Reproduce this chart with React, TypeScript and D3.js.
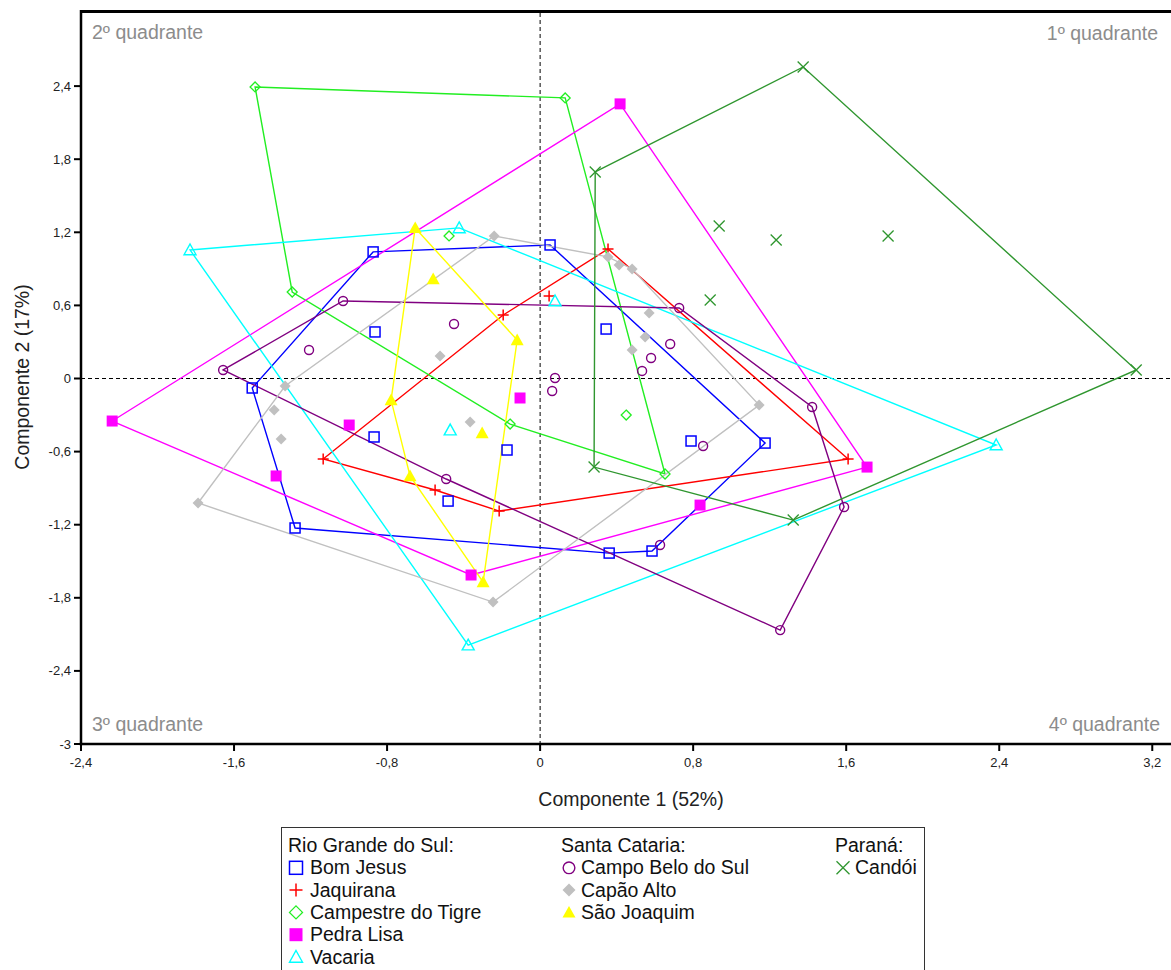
import React from "react";
import * as d3 from "d3";

type P = [number, number];

// ---- data (Componente 1, Componente 2) ----
const bomJesusHull: P[] = [[-0.873, 1.039], [0.052, 1.096], [1.176, -0.53], [0.585, -1.416], [0.361, -1.433], [-1.281, -1.227], [-1.505, -0.078]];
const bomJesusInner: P[] = [[-0.863, 0.382], [0.345, 0.406], [-0.868, -0.48], [-0.173, -0.587], [-0.481, -1.006], [0.789, -0.513]];

const jaquiranaHull: P[] = [[-1.134, -0.661], [-0.193, 0.521], [0.355, 1.063], [1.61, -0.661], [-0.214, -1.088], [-0.549, -0.915]];
const jaquiranaInner: P[] = [[0.047, 0.677]];

const campestreHull: P[] = [[-1.49, 2.393], [0.131, 2.303], [0.653, -0.784], [-0.157, -0.374], [-1.296, 0.71]];
const campestreInner: P[] = [[-0.476, 1.17], [0.45, -0.3]];

const pedraLisaHull: P[] = [[-2.237, -0.349], [0.418, 2.254], [1.709, -0.727], [-0.361, -1.613]];
const pedraLisaInner: P[] = [[-0.998, -0.382], [-1.38, -0.8], [-0.105, -0.16], [0.836, -1.039]];

const vacariaHull: P[] = [[-1.83, 1.055], [-0.423, 1.236], [2.384, -0.546], [-0.376, -2.188]];
const vacariaInner: P[] = [[0.078, 0.636], [-0.47, -0.423]];

const campoBeloHull: P[] = [[-1.657, 0.07], [-1.03, 0.636], [0.727, 0.579], [1.422, -0.234], [1.589, -1.055], [1.255, -2.065], [-0.491, -0.825]];
const campoBeloInner: P[] = [[-1.208, 0.234], [-0.45, 0.447], [0.68, 0.283], [0.58, 0.168], [0.533, 0.062], [0.078, 0.004], [0.063, -0.103], [0.852, -0.554], [0.627, -1.367]];

const capaoAltoHull: P[] = [[-0.24, 1.17], [0.355, 0.998], [0.481, 0.899], [1.145, -0.218], [-0.246, -1.835], [-1.788, -1.022], [-1.333, -0.062]];
const capaoAltoInner: P[] = [[-1.39, -0.259], [-1.354, -0.497], [-0.523, 0.185], [-0.366, -0.357], [0.413, 0.932], [0.57, 0.538], [0.549, 0.341], [0.481, 0.234]];

const saoJoaquimHull: P[] = [[-0.653, 1.236], [-0.12, 0.316], [-0.298, -1.671], [-0.68, -0.8], [-0.779, -0.177]];
const saoJoaquimInner: P[] = [[-0.559, 0.817], [-0.303, -0.447]];

const candoiHull: P[] = [[0.288, 1.695], [1.375, 2.557], [3.116, 0.07], [1.323, -1.162], [0.282, -0.727]];
const candoiInner: P[] = [[0.936, 1.252], [1.234, 1.137], [1.819, 1.17], [0.889, 0.645]];

const xTicks = [-2.4, -1.6, -0.8, 0, 0.8, 1.6, 2.4, 3.2];
const yTicks = [-3, -2.4, -1.8, -1.2, -0.6, 0, 0.6, 1.2, 1.8, 2.4];

const stateHeaders = ["Rio Grande do Sul:", "Santa Cataria:", "Paraná:"];

type Shape = "sqOpen" | "plus" | "diaOpen" | "sqFill" | "triOpen" | "circOpen" | "diaFill" | "triFill" | "cross";

const groups = [
  { name: "Bom Jesus", hull: bomJesusHull, inner: bomJesusInner, color: "#0000ff", shape: "sqOpen" as Shape, col: 0, row: 0 },
  { name: "Jaquirana", hull: jaquiranaHull, inner: jaquiranaInner, color: "#ff0000", shape: "plus" as Shape, col: 0, row: 1 },
  { name: "Campestre do Tigre", hull: campestreHull, inner: campestreInner, color: "#22ee22", shape: "diaOpen" as Shape, col: 0, row: 2 },
  { name: "Pedra Lisa", hull: pedraLisaHull, inner: pedraLisaInner, color: "#ff00ff", shape: "sqFill" as Shape, col: 0, row: 3 },
  { name: "Vacaria", hull: vacariaHull, inner: vacariaInner, color: "#00ffff", shape: "triOpen" as Shape, col: 0, row: 4 },
  { name: "Campo Belo do Sul", hull: campoBeloHull, inner: campoBeloInner, color: "#800080", shape: "circOpen" as Shape, col: 1, row: 0 },
  { name: "Capão Alto", hull: capaoAltoHull, inner: capaoAltoInner, color: "#c0c0c0", shape: "diaFill" as Shape, col: 1, row: 1 },
  { name: "São Joaquim", hull: saoJoaquimHull, inner: saoJoaquimInner, color: "#ffff00", shape: "triFill" as Shape, col: 1, row: 2 },
  { name: "Candói", hull: candoiHull, inner: candoiInner, color: "#2f962f", shape: "cross" as Shape, col: 2, row: 0 },
];

const FONT = "'Liberation Sans', Arial, sans-serif";

function Marker({ shape, cx, cy, color, s }: { shape: Shape; cx: number; cy: number; color: string; s: number }) {
  const h = s / 2;
  switch (shape) {
    case "sqOpen":
      return <rect x={cx - h} y={cy - h} width={s} height={s} fill="none" stroke={color} strokeWidth={1.5} />;
    case "sqFill":
      return <rect x={cx - h} y={cy - h} width={s} height={s} fill={color} stroke="none" />;
    case "plus":
      return <path d={`M${cx - h},${cy}H${cx + h}M${cx},${cy - h}V${cy + h}`} stroke={color} strokeWidth={1.5} fill="none" />;
    case "cross":
      return <path d={`M${cx - h},${cy - h}L${cx + h},${cy + h}M${cx + h},${cy - h}L${cx - h},${cy + h}`} stroke={color} strokeWidth={1.3} fill="none" />;
    case "diaOpen":
      return <path d={`M${cx},${cy - h}L${cx + h},${cy}L${cx},${cy + h}L${cx - h},${cy}Z`} fill="none" stroke={color} strokeWidth={1.3} />;
    case "diaFill":
      return <path d={`M${cx},${cy - h}L${cx + h},${cy}L${cx},${cy + h}L${cx - h},${cy}Z`} fill={color} stroke="none" />;
    case "triOpen":
      return <path d={`M${cx},${cy - h}L${cx + h},${cy + h * 0.8}L${cx - h},${cy + h * 0.8}Z`} fill="none" stroke={color} strokeWidth={1.4} />;
    case "triFill":
      return <path d={`M${cx},${cy - h}L${cx + h},${cy + h * 0.8}L${cx - h},${cy + h * 0.8}Z`} fill={color} stroke="none" />;
    case "circOpen":
      return <circle cx={cx} cy={cy} r={h * 0.9} fill="none" stroke={color} strokeWidth={1.4} />;
  }
  return null;
}

const markerSize: Record<Shape, number> = {
  sqOpen: 10, sqFill: 11, plus: 11, cross: 11, diaOpen: 10, diaFill: 11, triOpen: 12, triFill: 13, circOpen: 10,
};

export default function App() {
  const W = 1171, H = 970;
  const x = d3.scaleLinear().domain([-2.4, 3.3]).range([81, 1171.4]);
  const y = d3.scaleLinear().domain([-3, 3]).range([744, 13]);
  const line = d3.line<P>().x((d) => x(d[0])).y((d) => y(d[1])).curve(d3.curveLinearClosed);
  const fmt = (v: number) => String(Math.round(v * 10) / 10).replace(".", ",");

  const colX = [
    { head: 288, sym: 296, text: 310 },
    { head: 561, sym: 569, text: 581 },
    { head: 835, sym: 843, text: 855 },
  ];
  const rowBase = (r: number) => 852 + 22.3 * (r + 1);

  return (
    <svg width={W} height={H} style={{ position: "absolute", left: 0, top: 0, background: "#fff" }} fontFamily={FONT}>
      <rect x={0} y={0} width={W} height={H} fill="#fff" />
      {/* quadrant labels */}
      <g fill="#8c8c8c" fontSize={19.5}>
        <text x={92} y={39}>2º quadrante</text>
        <text x={1158} y={40} textAnchor="end">1º quadrante</text>
        <text x={92} y={731}>3º quadrante</text>
        <text x={1160} y={731} textAnchor="end">4º quadrante</text>
      </g>
      {/* zero lines */}
      <line x1={x(0)} x2={x(0)} y1={y(3)} y2={y(-3)} stroke="#000" strokeWidth={1} strokeDasharray="4,3" />
      <line x1={x(-2.4)} x2={x(3.3)} y1={y(0)} y2={y(0)} stroke="#000" strokeWidth={1} strokeDasharray="4,3" />
      {/* hulls */}
      {groups.map((g) => (
        <path key={g.name + "h"} d={line(g.hull) || ""} fill="none" stroke={g.color} strokeWidth={1.4} />
      ))}
      {/* markers */}
      {groups.map((g) => (
        <g key={g.name + "m"}>
          {[...g.hull, ...g.inner].map((p, i) => (
            <Marker key={i} shape={g.shape} cx={x(p[0])} cy={y(p[1])} color={g.color} s={markerSize[g.shape]} />
          ))}
        </g>
      ))}
      {/* axes */}
      <line x1={x(-2.4)} x2={W} y1={11.5} y2={11.5} stroke="#000" strokeWidth={3} />
      <line x1={x(-2.4)} x2={x(-2.4)} y1={10} y2={y(-3) + 1.2} stroke="#000" strokeWidth={2.5} />
      <line x1={x(-2.4) - 1.2} x2={W} y1={y(-3)} y2={y(-3)} stroke="#000" strokeWidth={2.5} />
      {yTicks.map((t) => (
        <g key={"y" + t}>
          <line x1={x(-2.4) - 7} x2={x(-2.4)} y1={y(t)} y2={y(t)} stroke="#000" strokeWidth={2} />
          <text x={71} y={y(t) + 4.5} textAnchor="end" fontSize={13} fill="#222">{fmt(t)}</text>
        </g>
      ))}
      {xTicks.map((t) => (
        <g key={"x" + t}>
          <line x1={x(t)} x2={x(t)} y1={y(-3)} y2={y(-3) + 7} stroke="#000" strokeWidth={2} />
          <text x={x(t)} y={767} textAnchor="middle" fontSize={13} fill="#222">{fmt(t)}</text>
        </g>
      ))}
      <text x={631} y={806} textAnchor="middle" fontSize={19.5} fill="#222">Componente 1 (52%)</text>
      <text transform={`translate(29,377) rotate(-90)`} textAnchor="middle" fontSize={19.5} fill="#222">Componente 2 (17%)</text>
      {/* legend */}
      <rect x={281.5} y={827.5} width={643} height={200} fill="#fff" stroke="#333" strokeWidth={1} />
      <g fontSize={19.5} fill="#111">
        {stateHeaders.map((h, i) => (
          <text key={h} x={colX[i].head} y={852}>{h}</text>
        ))}
        {groups.map((g) => (
          <g key={g.name + "l"}>
            <Marker shape={g.shape} cx={colX[g.col].sym} cy={rowBase(g.row) - 6.5} color={g.color} s={13} />
            <text x={colX[g.col].text} y={rowBase(g.row)}>{g.name}</text>
          </g>
        ))}
      </g>
    </svg>
  );
}
